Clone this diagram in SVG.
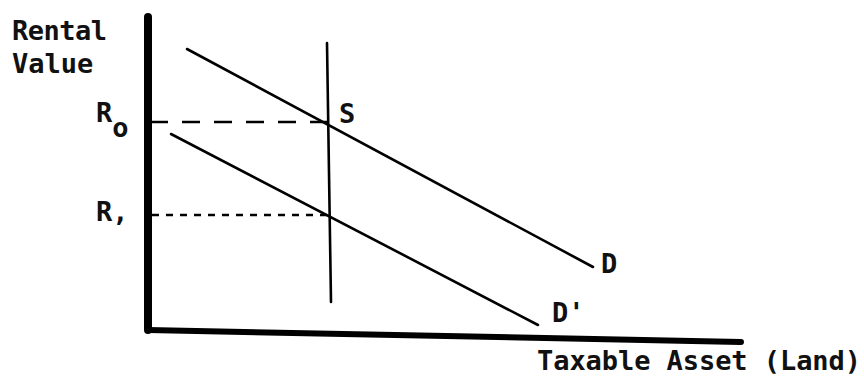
<svg xmlns="http://www.w3.org/2000/svg" width="864" height="377" viewBox="0 0 864 377">
<style>
text{font-family:"DejaVu Sans Mono","Liberation Mono",monospace;font-weight:bold;font-size:27px;fill:#111}
.axis{stroke:#000;fill:none;stroke-linecap:round}
.ln{stroke:#000;stroke-width:2.6;fill:none;stroke-linecap:round}
.d0{stroke:#000;stroke-width:2.6;stroke-dasharray:18 14;fill:none}
.d1{stroke:#000;stroke-width:2.6;stroke-dasharray:7 7;fill:none}
</style>
<rect width="864" height="377" fill="#fff"/>
<g id="axes">
<path class="axis" d="M148 17 L148 330" stroke-width="8"/>
<path class="axis" d="M148 330 L741 342" stroke-width="6"/>
</g>
<g id="axis-labels">
<text x="12" y="40" textLength="95">Rental</text>
<text x="12" y="73">Value</text>
<text x="537" y="370" font-size="27.5" textLength="324">Taxable Asset (Land)</text>
</g>
<g id="connectors">
<line class="d0" x1="150" y1="122" x2="328" y2="122"/>
<line class="d1" x1="152" y1="215" x2="329" y2="215"/>
</g>
<g id="D"><line class="ln" x1="187" y1="49" x2="593" y2="267"/><text x="601" y="273">D</text></g>
<g id="Dprime"><line class="ln" x1="171" y1="134" x2="538" y2="325"/><text x="552" y="322">D'</text></g>
<g id="S"><line class="ln" x1="327" y1="43" x2="331" y2="302"/><text x="339" y="123">S</text></g>
<g id="R0"><text x="96" y="122">R<tspan dy="15">o</tspan></text></g>
<g id="R1"><text x="96" y="221">R,</text></g>
</svg>
